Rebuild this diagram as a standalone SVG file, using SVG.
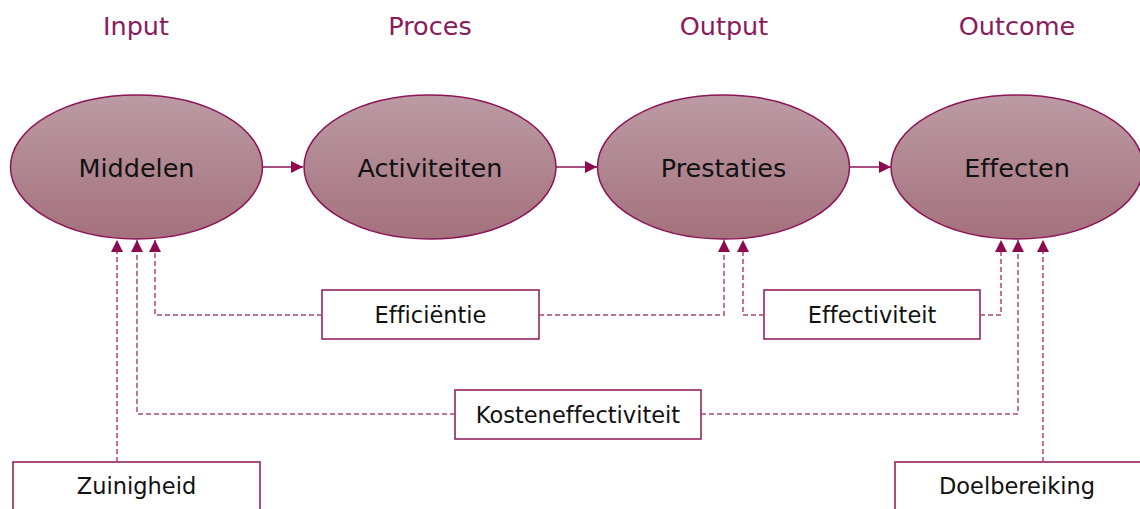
<svg xmlns="http://www.w3.org/2000/svg" width="1140" height="509" viewBox="0 0 1140 509">
<style>
text{font-variant-ligatures:none;font-feature-settings:"liga" 0,"clig" 0}
.hdr{font-family:"DejaVu Sans",sans-serif;font-size:25.5px;fill:#8a1a5c;text-anchor:middle}
.lbl{font-family:"DejaVu Sans",sans-serif;font-size:25.5px;fill:#111;text-anchor:middle}
.btx{font-family:"DejaVu Sans",sans-serif;font-size:22.5px;fill:#111;text-anchor:middle}
.ell{fill:url(#g);stroke:#8c1457;stroke-width:1.5}
.box{fill:#fff;stroke:#8c1457;stroke-width:1.5}
.solid{fill:none;stroke:#8c1457;stroke-width:1.5}
.dash{fill:none;stroke:#a8487a;stroke-width:1.5;stroke-dasharray:5 3}
</style>
<defs>
<linearGradient id="g" x1="0" y1="0" x2="0" y2="1">
<stop offset="0" stop-color="#bc9ba4"/>
<stop offset="1" stop-color="#a4717d"/>
</linearGradient>
<marker id="ah" viewBox="0 0 10 10" refX="10" refY="5" markerWidth="12" markerHeight="12" markerUnits="userSpaceOnUse" orient="auto">
<path d="M0,0 L10,5 L0,10 z" fill="#8c0a50"/>
</marker>
</defs>
<text class="hdr" x="136" y="35">Input</text>
<text class="hdr" x="430" y="35">Proces</text>
<text class="hdr" x="724" y="35">Output</text>
<text class="hdr" x="1017" y="35">Outcome</text>
<g id="middelen"><ellipse class="ell" cx="136.5" cy="167" rx="126" ry="72"/><text class="lbl" x="136.5" y="177">Middelen</text></g>
<g id="activiteiten"><ellipse class="ell" cx="430" cy="167" rx="126" ry="72"/><text class="lbl" x="430" y="177">Activiteiten</text></g>
<g id="prestaties"><ellipse class="ell" cx="723.5" cy="167" rx="126" ry="72"/><text class="lbl" x="723.5" y="177">Prestaties</text></g>
<g id="effecten"><ellipse class="ell" cx="1017" cy="167" rx="126" ry="72"/><text class="lbl" x="1017" y="177">Effecten</text></g>
<g id="efficientie"><rect class="box" x="322" y="290" width="217" height="49"/><text class="btx" x="430.5" y="323">Efficiëntie</text></g>
<g id="effectiviteit"><rect class="box" x="764" y="290" width="216" height="49"/><text class="btx" x="872" y="323">Effectiviteit</text></g>
<g id="kosteneffectiviteit"><rect class="box" x="455" y="390" width="246" height="49"/><text class="btx" x="578" y="423">Kosteneffectiviteit</text></g>
<g id="zuinigheid"><rect class="box" x="13" y="462" width="247" height="60"/><text class="btx" x="136.5" y="494">Zuinigheid</text></g>
<g id="doelbereiking"><rect class="box" x="895" y="462" width="260" height="60"/><text class="btx" x="1017" y="494">Doelbereiking</text></g>
<g id="connectors">
<line class="solid" x1="263" y1="167" x2="303" y2="167" marker-end="url(#ah)"/>
<line class="solid" x1="556" y1="167" x2="597" y2="167" marker-end="url(#ah)"/>
<line class="solid" x1="850" y1="167" x2="891" y2="167" marker-end="url(#ah)"/>
<polyline class="dash" points="117,462 117,240" marker-end="url(#ah)"/>
<polyline class="dash" points="455,414 137,414 137,240" marker-end="url(#ah)"/>
<polyline class="dash" points="322,315 155,315 155,240" marker-end="url(#ah)"/>
<polyline class="dash" points="539,315 724,315 724,240" marker-end="url(#ah)"/>
<polyline class="dash" points="764,315 743,315 743,240" marker-end="url(#ah)"/>
<polyline class="dash" points="980,315 1001,315 1001,240" marker-end="url(#ah)"/>
<polyline class="dash" points="701,414 1018,414 1018,240" marker-end="url(#ah)"/>
<polyline class="dash" points="1043,462 1043,240" marker-end="url(#ah)"/>
</g>
</svg>
